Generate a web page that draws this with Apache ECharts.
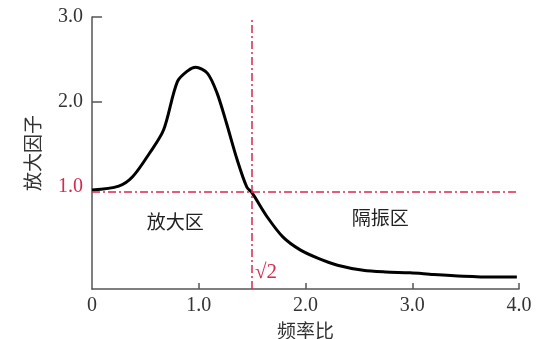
<!DOCTYPE html>
<html><head><meta charset="utf-8">
<script src="https://cdn.jsdelivr.net/npm/echarts@6/dist/echarts.min.js"></script>
<style>html,body{margin:0;padding:0;background:#fff}#c{width:542px;height:339px}</style>
</head><body><div id="c"></div>
<script>
const xValues = [0, 0.25, 0.38, 0.54, 0.67, 0.80, 0.90, 0.97, 1.08, 1.17, 1.26, 1.36, 1.45, 1.50, 1.64, 1.79, 1.95, 2.12, 2.30, 2.54, 2.75, 2.98, 3.2, 3.48, 3.75, 3.98];
const yValues = [0.965, 1.01, 1.12, 1.40, 1.67, 2.24, 2.37, 2.41, 2.34, 2.11, 1.75, 1.32, 1.0, 0.93, 0.65, 0.41, 0.26, 0.16, 0.08, 0.02, 0.0, -0.01, -0.03, -0.05, -0.06, -0.06];
const xTicks = [0, 1, 2, 3, 4];
const yTicks = [1, 2, 3];
const thresholdY = 0.95;
const thresholdX = 1.5;
const regionLabels = [{text: '放大区', x: 0.78, y: 0.59}, {text: '隔振区', x: 2.7, y: 0.64}];
const sqrtLabel = {text: '√2', x: 1.63, y: 0.0};

const red = '#d8284e';
const serif = '"Liberation Serif","DejaVu Serif",serif';
const cjk = '"Noto Sans CJK SC",sans-serif';
const chart = echarts.init(document.getElementById('c'));
chart.setOption({
  animation: false,
  grid: {left: 92, right: 23, top: 17, bottom: 50, outerBoundsMode: 'none', containLabel: false},
  xAxis: {
    type: 'value', min: 0, max: 4, interval: 1,
    name: '频率比', nameLocation: 'middle', nameGap: 28,
    nameTextStyle: {fontFamily: cjk, fontSize: 19, color: '#333'},
    axisLine: {onZero: false, lineStyle: {color: '#555', width: 1.5}},
    axisTick: {show: true, inside: true, length: 6, lineStyle: {color: '#555', width: 1.5}, customValues: [1, 2, 3, 4]},
    axisLabel: {fontFamily: serif, fontSize: 20, color: '#333', margin: 7, customValues: xTicks,
      formatter: v => v === 0 ? '0' : v.toFixed(1)},
    splitLine: {show: false}
  },
  yAxis: {
    type: 'value', min: -0.2, max: 3,
    name: '放大因子', nameLocation: 'middle', nameGap: 50, nameRotate: 90,
    nameTextStyle: {fontFamily: cjk, fontSize: 19, color: '#333'},
    axisLine: {show: true, onZero: false, lineStyle: {color: '#555', width: 1.5}},
    axisTick: {show: true, inside: true, length: 10, lineStyle: {color: '#555', width: 1.5}, customValues: [2, 3]},
    axisLabel: {fontFamily: serif, fontSize: 20, color: '#333', margin: 9, customValues: yTicks,
      formatter: v => v === 1 ? '{r|1.0}' : v.toFixed(1),
      rich: {r: {color: red, fontFamily: serif, fontSize: 20}}},
    splitLine: {show: false}
  },
  series: [{
    type: 'line', smooth: 0.3, symbol: 'none',
    data: xValues.map((x, i) => [x, yValues[i]]),
    lineStyle: {color: '#000', width: 3},
    markLine: {
      silent: true, symbol: 'none', label: {show: false},
      lineStyle: {color: red, width: 1.5, type: [8, 3, 2, 3]},
      data: [{yAxis: thresholdY}, {xAxis: thresholdX}]
    }
  }]
});
const g = regionLabels.map(r => {
  const p = chart.convertToPixel({gridIndex: 0}, [r.x, r.y]);
  return {type: 'text', x: p[0], y: p[1], style: {text: r.text, fontFamily: cjk, fontSize: 19, fill: '#222', align: 'center', verticalAlign: 'middle'}};
});
const sp = chart.convertToPixel({gridIndex: 0}, [sqrtLabel.x, sqrtLabel.y]);
g.push({type: 'text', x: sp[0], y: sp[1], style: {text: sqrtLabel.text, fontFamily: serif, fontSize: 21, fill: red, align: 'center', verticalAlign: 'middle'}});
chart.setOption({graphic: g});
</script></body></html>
